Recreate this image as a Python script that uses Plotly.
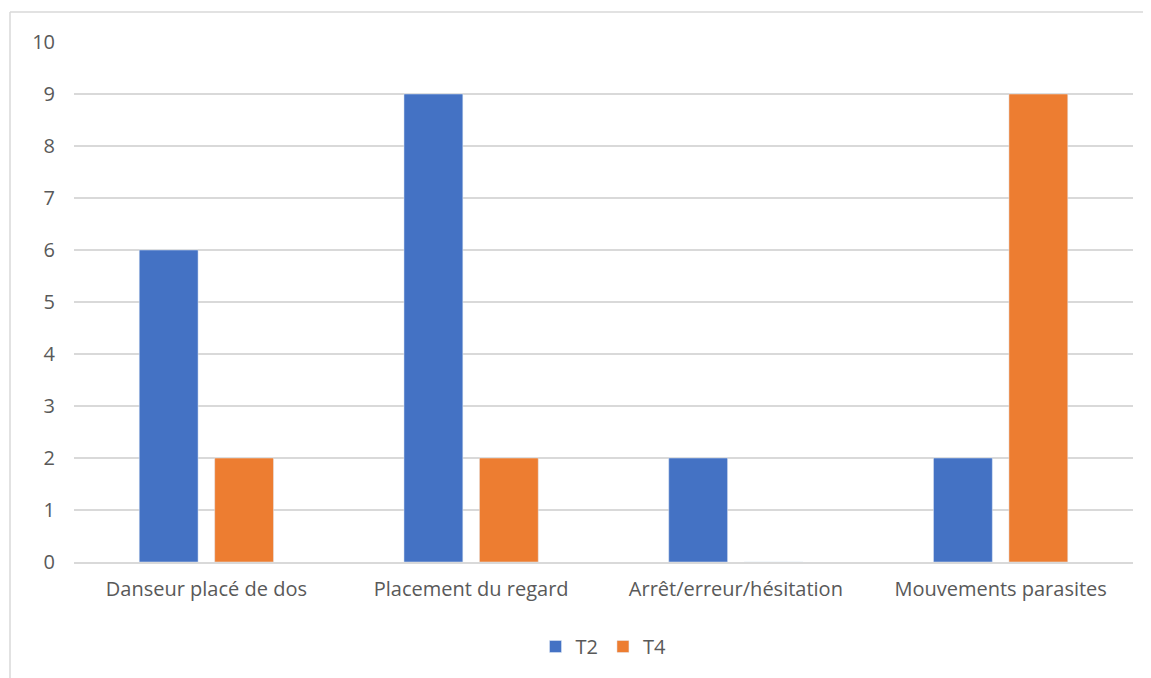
import plotly.graph_objects as go

categories = ["Danseur placé de dos", "Placement du regard", "Arrêt/erreur/hésitation", "Mouvements parasites"]
t2_values = [6, 9, 2, 2]
t4_values = [2, 2, 0, 9]

W, H = 1151, 678
# page body has an 8px margin, so margins are shifted accordingly
ml, mr, mt, mb = 66, 26, 34, 124

fig = go.Figure()
fig.add_trace(go.Bar(x=categories, y=t2_values, name="T2", marker_color="#4472C4"))
fig.add_trace(go.Bar(x=categories, y=t4_values, name="T4", marker_color="#ED7D31"))

font_family = "Open Sans, Lato, sans-serif"

# chart area outline: only top and left edges are visible in the picture
pw, ph = W - ml - mr, H - mt - mb
x0 = (2 - ml) / pw
y1 = 1 + (mt - 4) / ph
border = dict(color="#D9D9D9", width=1.5)
fig.add_shape(type="line", xref="paper", yref="paper", x0=x0, x1=1 + mr / pw,
              y0=y1, y1=y1, line=border)
fig.add_shape(type="line", xref="paper", yref="paper", x0=x0, x1=x0,
              y0=y1, y1=-mb / ph, line=border)

fig.update_layout(
    width=W, height=H,
    margin=dict(l=ml, r=mr, t=mt, b=mb),
    plot_bgcolor="white", paper_bgcolor="white",
    barmode="group", bargap=0.43, bargroupgap=0.22,
    font=dict(family=font_family, size=20, color="#595959"),
    legend=dict(orientation="h", x=0.5, xanchor="center", y=-0.125, yanchor="top",
                font=dict(size=20, color="#595959"), itemwidth=30, tracegroupgap=0),
    showlegend=True,
)
fig.update_yaxes(range=[0, 10], dtick=1, showgrid=True, gridcolor="#D9D9D9", gridwidth=1.5,
                 zeroline=False, showline=False, ticks="", ticklabelstandoff=18)
fig.update_xaxes(showline=True, linecolor="#D9D9D9", linewidth=1.5, ticks="",
                 ticklabelstandoff=8)

fig.write_html("out.html")
